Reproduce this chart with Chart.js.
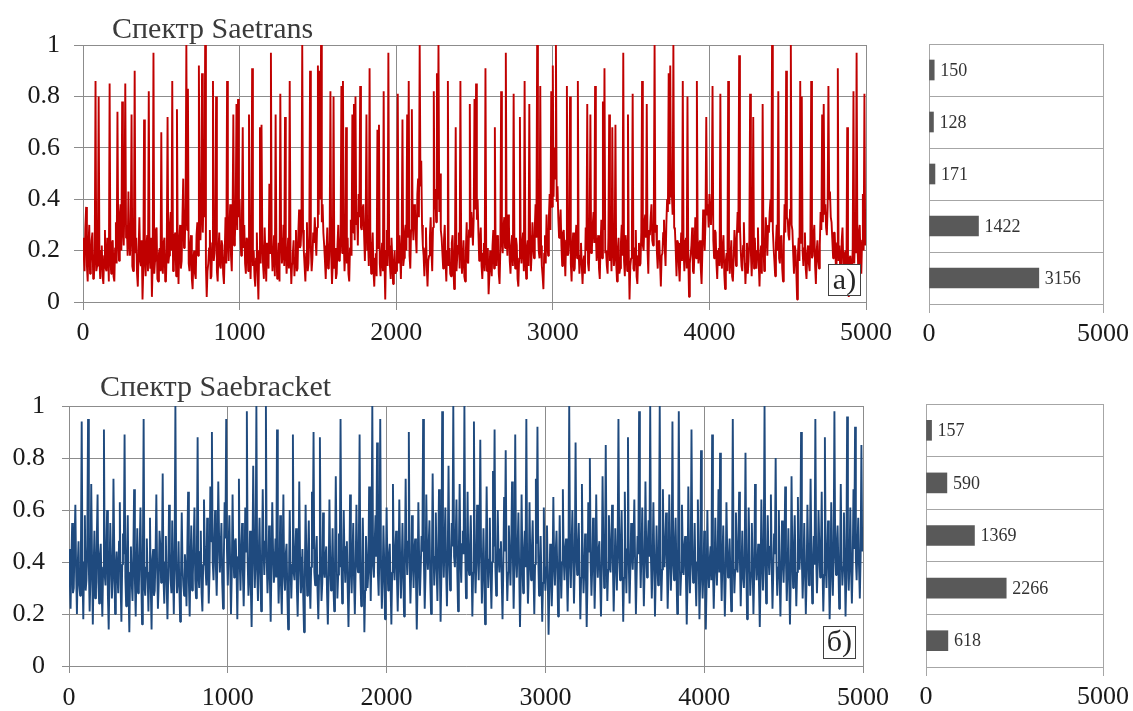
<!DOCTYPE html>
<html><head><meta charset="utf-8">
<script src="https://cdn.jsdelivr.net/npm/chart.js@4.4.0/dist/chart.umd.min.js"></script>
<style>
html,body{margin:0;padding:0;background:#fff;}
#wrap{position:relative;width:1133px;height:711px;overflow:hidden;background:#fff;}
canvas{position:absolute;left:0;top:0;}
.t{position:absolute;font-family:'Liberation Serif','Times New Roman',serif;font-size:30px;line-height:30px;color:#3b3b3b;white-space:nowrap;z-index:5;}
.tag{position:absolute;box-sizing:border-box;border:1px solid #404040;background:#fff;font-family:'Liberation Serif','Times New Roman',serif;font-size:30px;line-height:28px;text-align:center;color:#262626;z-index:5;}
</style></head><body>
<div id="wrap">
<canvas id="c1" width="1133" height="711"></canvas>
<canvas id="c2" width="1133" height="711"></canvas>
<canvas id="c3" width="1133" height="711"></canvas>
<canvas id="c4" width="1133" height="711"></canvas>
<div class="t" style="left:112px;top:13px;">Спектр Saetrans</div>
<div class="t" style="left:100px;top:371px;">Спектр Saebracket</div>
<div class="tag" style="left:828px;top:264px;width:33px;height:32px;">a)</div>
<div class="tag" style="left:823px;top:626px;width:33px;height:33px;">б)</div>
</div>
<script>
// sample spacing of the spectrum arrays (index -> position on x axis)
const sampleStep = 5;
const xTicks = [0, 1000, 2000, 3000, 4000, 5000];
const yTicks = [0, 0.2, 0.4, 0.6, 0.8, 1];
const barTicks = [0, 5000];
const binLabels = ['0.8–1', '0.6–0.8', '0.4–0.6', '0.2–0.4', '0–0.2'];
const saetransCounts = [150, 128, 171, 1422, 3156];
const saebracketCounts = [157, 590, 1369, 2266, 618];

const saetrans = [
.25,.18,.12,.29,.37,.14,.08,.22,.30,.11,.15,.24,.27,.09,.10,.19,.86,.12,.14,.21,
.80,.16,.09,.20,.22,.10,.07,.18,.28,.13,.12,.25,.19,.08,.85,.17,.11,.23,.24,.10,
.08,.21,.31,.15,.74,.26,.16,.34,.38,.20,.78,.29,.22,.40,.85,.25,.30,.18,.43,.24,
.18,.27,.73,.14,.12,.23,.90,.19,.25,.11,.06,.20,.33,.16,.14,.24,.01,.13,.71,.17,
.10,.22,.26,.12,.82,.18,.13,.25,.02,.15,.97,.11,.16,.28,.29,.09,.08,.19,.21,.12,
.66,.14,.11,.23,.25,.08,.09,.21,.72,.15,.18,.30,.35,.20,.86,.12,.14,.26,.27,.10,
.75,.19,.07,.24,.30,.13,.16,.33,.48,.21,.22,.37,1,.28,.83,.15,.12,.22,.26,.09,
.05,.17,.20,.11,.09,.26,.31,.18,.92,.30,.24,.36,.89,.27,.42,.33,1,.14,.02,.12,
.15,.21,.28,.09,.10,.23,.86,.16,.19,.27,.80,.12,.08,.20,.27,.14,.13,.24,.22,.11,
.07,.19,.33,.15,.86,.24,.16,.29,.38,.18,.12,.31,.73,.22,.25,.35,.77,.28,.79,.33,
.40,.26,.18,.34,.68,.21,.30,.15,.11,.25,.24,.12,.73,.19,.09,.22,.91,.14,.20,.10,
.06,.17,.27,.12,.01,.20,.68,.15,.69,.24,.14,.09,.29,.18,.08,.23,.21,.13,.46,.19,
.97,.22,.12,.18,.26,.10,.73,.20,.09,.16,.23,.08,.81,.25,.15,.19,.30,.14,.72,.21,
.11,.18,.25,.13,.86,.20,.07,.15,.19,.24,.10,.17,.28,.12,.13,.27,.36,.21,.22,.30,
1,.28,.20,.14,.08,.19,.31,.12,.15,.26,.90,.21,.12,.17,.27,.23,.33,.25,.18,.29,
.92,.34,.90,.40,1,.31,.38,.27,.22,.16,.09,.20,.29,.13,.14,.24,.82,.18,.07,.15,
.80,.13,.21,.09,.11,.22,.30,.16,.17,.26,.84,.19,.86,.24,.12,.20,.68,.15,.25,.11,
.08,.21,.32,.18,.73,.27,.77,.24,.80,.30,.35,.22,.42,.33,.84,.29,.28,.36,.38,.26,
.16,.30,.73,.20,.24,.14,.91,.23,.11,.19,.27,.12,.06,.17,.19,.10,.67,.21,.69,.15,
.10,.18,.23,.12,.82,.16,.01,.20,.28,.14,.97,.22,.14,.09,.25,.17,.07,.13,.20,.11,
.12,.22,.81,.15,.26,.19,.09,.24,.71,.14,.17,.27,.30,.20,.73,.25,.86,.18,.13,.28,
.75,.31,.24,.38,.36,.26,.19,.42,.48,.33,1,.45,.55,.30,.22,.18,.10,.21,.29,.14,
.06,.16,.18,.25,.33,.20,.12,.29,.82,.36,.44,.31,.89,.40,1,.35,.50,.28,.25,.19,
.13,.24,.30,.16,.08,.20,.86,.14,.21,.11,.10,.23,.26,.15,.05,.19,.68,.12,.18,.22,
.27,.13,.86,.21,.11,.18,.24,.10,.08,.20,.31,.16,.15,.28,.77,.25,.35,.30,.22,.33,
.79,.36,.85,.32,.40,.27,.16,.24,.29,.14,.09,.19,.23,.12,.91,.17,.12,.21,.03,.10,
.20,.15,.10,.22,.28,.13,.68,.18,.14,.26,.25,.11,.07,.20,.82,.24,.19,.29,.33,.21,
.97,.27,.18,.34,.30,.16,.11,.22,.26,.14,.81,.19,.13,.25,.22,.09,.06,.17,.72,.20,
.15,.23,.27,.12,.86,.18,.09,.21,.24,.14,.77,.26,.12,.19,.31,.22,.17,.29,.38,.25,
1,.30,.20,.17,.84,.22,.14,.10,.05,.19,.26,.15,.34,.24,.18,.33,.42,.28,.82,.37,
.92,.41,.60,.48,1,.39,.45,.33,.25,.30,.36,.22,.14,.27,.28,.19,.10,.24,.84,.18,
.19,.26,.80,.15,.08,.21,.27,.12,.13,.24,.30,.17,.86,.20,.11,.18,.23,.14,.07,.16,
.18,.11,.29,.20,.77,.15,.12,.24,.73,.19,.21,.30,.35,.23,.84,.27,.16,.22,.26,.13,
.09,.22,.32,.17,.78,.28,.91,.19,.20,.14,.11,.25,.73,.16,.24,.12,.68,.21,.14,.18,
.69,.15,.08,.20,.25,.11,.13,.23,.30,.18,.97,.16,.10,.26,.22,.12,.73,.19,.01,.14,
.17,.24,.81,.13,.12,.21,.28,.10,.07,.18,.23,.14,.15,.27,.86,.22,.20,.31,.34,.25,
.77,.20,.11,.28,.26,.33,.38,.24,.22,.35,1,.27,.30,.19,.13,.23,.24,.15,.06,.18,
.19,.27,.32,.21,.14,.30,.40,.35,.89,.38,.92,.41,.43,.34,1,.29,.28,.20,.10,.24,
.23,.14,.08,.19,.27,.16,.86,.21,.12,.24,.25,.13,.80,.18,.02,.15,.18,.22,.29,.12,
.11,.20,.33,.17,.86,.25,.15,.22,.24,.13,.07,.19,.36,.26,.20,.31,.72,.34,.38,.29,
.42,.35,.30,.40,.84,.24,.17,.28,.27,.15,.09,.20,.21,.14,.81,.18,.13,.22,.26,.11,
.05,.16,.19,.12,.86,.21,.11,.18,.24,.10,.08,.17,.28,.22,.14,.25,.35,.27,.96,.30,
.20,.14,.12,.22,.31,.18,.07,.15,.23,.11,.16,.24,.81,.19,.10,.21,.72,.13,.25,.17,
.13,.20,.29,.15,.06,.18,.22,.11,.77,.24,.12,.19,.33,.26,.18,.30,.27,.35,.40,.31,
1,.28,.21,.16,.10,.23,.30,.20,.82,.17,.15,.25,.26,.13,.08,.22,.38,.27,.90,.33,
.32,.26,.24,.36,1,.30,.28,.19,.11,.22,.20,.12,.01,.18,.25,.16,.86,.23,.80,.20,
.14,.21,.27,.13,.09,.19,.22,.15,.12,.25,.86,.17,.18,.26,.30,.14,.07,.20,.24,.16,
.13,.22,.35,.28,.73,.31,.77,.34,.38,.29,.26,.37,.84,.40,.43,.33,.31,.24,.17,.27,
.27,.18,.10,.23,.91,.16,.22,.13,.12,.24,.29,.15,.08,.19,.20,.11,.68,.14,.02,.17,
.18,.12,.09,.21,.82,.15,.26,.19,.97,.23,.14,.27,.30,.16,.11,.24,.42,.20,.81,.22
];

const saebracket = [
.45,.33,.22,.41,.55,.28,.30,.47,.62,.36,.20,.39,.48,.31,.27,.44,.94,.35,.18,.40,
.58,.29,.33,.46,.95,.38,.21,.34,.70,.42,.16,.37,.52,.26,.29,.49,.66,.32,.24,.43,
.47,.30,.19,.38,.91,.35,.31,.45,.60,.27,.14,.36,.55,.40,.26,.33,.72,.44,.20,.37,
.44,.35,.28,.48,.63,.31,.17,.39,.51,.43,.89,.34,.23,.41,.58,.29,.13,.36,.46,.32,
.25,.42,.68,.33,.19,.37,.53,.28,.30,.45,.61,.34,.16,.40,.95,.31,.27,.38,.49,.35,
.21,.36,.57,.30,.14,.41,.45,.27,.29,.43,.66,.38,.22,.32,.52,.46,.32,.39,.74,.34,
.24,.40,.50,.31,.18,.35,.62,.44,.33,.28,.56,.37,.20,.42,1,.39,.28,.33,.48,.30,
.17,.34,.59,.38,.31,.27,.43,.36,.23,.45,.67,.32,.19,.40,.54,.29,.35,.47,.61,.33,
.26,.41,.88,.35,.30,.44,.52,.28,.21,.39,.64,.46,.37,.31,.57,.42,.24,.36,.69,.48,
.90,.40,.33,.47,.60,.38,.27,.43,.71,.50,.36,.45,.55,.32,.22,.41,.63,.49,.95,.44,
.31,.46,.58,.39,.20,.35,.66,.43,.34,.48,.49,.37,.18,.42,.72,.40,.29,.45,.55,.36,
.23,.38,.61,.44,.98,.41,.27,.35,.52,.30,.15,.39,.77,.46,.30,.42,1,.37,.25,.43,
.57,.36,.21,.40,.68,.45,.35,.48,1,.41,.28,.38,.54,.33,.17,.39,.63,.44,.32,.37,
.49,.34,.91,.42,.24,.36,.58,.31,.20,.40,.66,.35,.29,.43,.47,.28,.14,.33,.60,.38,
.26,.39,.89,.36,.33,.44,.53,.30,.19,.37,.71,.42,.28,.34,.45,.27,.13,.35,.62,.40,
.27,.41,.56,.33,.22,.38,.67,.45,.90,.36,.31,.43,.50,.29,.18,.35,.88,.40,.25,.32,
.59,.37,.34,.42,.46,.28,.16,.33,.64,.40,.29,.36,.53,.31,.21,.39,.73,.44,.26,.35,
.51,.38,.95,.43,.24,.35,.60,.41,.32,.46,.48,.30,.15,.34,.66,.39,.28,.42,.55,.33,
.20,.37,.62,.40,.36,.45,.89,.34,.23,.31,.57,.38,.13,.29,.50,.41,.30,.36,.69,.43,
.25,.44,1,.39,.34,.47,.58,.42,.86,.36,.27,.45,.95,.38,.22,.33,.54,.40,.18,.35,
.61,.39,.29,.43,.47,.31,.16,.36,.70,.41,.33,.45,.52,.34,.21,.37,.64,.42,.26,.38,
.55,.35,.19,.40,.72,.44,.35,.48,.90,.39,.24,.36,.58,.42,.30,.45,.49,.33,.14,.31,
.63,.41,.27,.38,.50,.44,.95,.40,.22,.35,.66,.43,.37,.47,.56,.32,.20,.39,.74,.46,
.31,.42,.59,.37,.25,.44,.68,.39,.17,.35,.98,.45,.34,.48,.61,.36,.23,.41,.77,.43,
.29,.40,.55,.46,1,.42,.38,.49,.64,.37,.21,.44,.70,.41,.32,.47,.52,.43,1,.45,
.26,.41,.67,.38,.35,.46,.58,.40,.19,.36,.94,.43,.28,.39,.62,.45,.33,.48,.87,.42,
.24,.37,.53,.34,.16,.39,.69,.43,.30,.41,.57,.35,.22,.40,.75,.46,.91,.38,.27,.36,
.60,.42,.36,.45,.48,.33,.18,.38,.65,.44,.83,.40,.25,.36,.54,.41,.31,.47,.71,.43,
.22,.39,.89,.42,.34,.46,.59,.37,.15,.33,.66,.41,.28,.44,.52,.38,.95,.40,.24,.35,
.63,.41,.33,.45,.56,.36,.20,.39,.72,.47,.92,.42,.27,.37,.50,.34,.17,.32,.61,.40,
.29,.38,.54,.33,.12,.30,.47,.36,.23,.35,.65,.41,.31,.44,.52,.37,.19,.34,.58,.39,
.26,.40,.68,.42,.33,.45,.49,.36,.21,.38,1,.43,.30,.47,.60,.41,.24,.39,.86,.44,
.35,.46,.55,.39,.18,.34,.70,.42,.28,.37,.51,.35,.15,.32,.63,.44,.80,.40,.27,.38,
.57,.41,.22,.36,.66,.43,.34,.45,.48,.33,.19,.38,.73,.46,.30,.40,.85,.42,.25,.37,
.58,.44,.36,.48,.62,.39,.21,.35,.53,.41,.29,.46,.95,.43,.33,.47,.60,.38,.17,.34,
.67,.42,.28,.45,.88,.40,.24,.37,.55,.44,.37,.48,.64,.39,.20,.36,.50,.43,.98,.46,
.30,.44,.61,.40,.23,.38,.71,.45,.34,.47,.56,.42,1,.41,.26,.39,.63,.43,.19,.35,
.54,.40,.31,.46,1,.43,.25,.37,.68,.44,.38,.48,.59,.41,.22,.36,.66,.45,.29,.39,
.94,.42,.33,.47,.57,.38,.20,.40,.98,.44,.27,.36,.62,.43,.35,.46,.50,.34,.16,.32,
.69,.41,.28,.39,.91,.44,.32,.37,.55,.35,.23,.40,.64,.42,.18,.33,.83,.38,.26,.36,
.52,.34,.14,.31,.60,.37,.30,.41,.46,.33,.89,.38,.22,.35,.57,.40,.31,.43,.68,.36,
.82,.39,.25,.42,.54,.36,.19,.33,.63,.44,.34,.40,.49,.35,.21,.38,.95,.41,.28,.37,
.59,.43,.36,.46,.67,.40,.23,.38,.52,.34,.30,.42,.82,.39,.18,.35,.61,.44,.27,.36,
.55,.38,.20,.35,.70,.43,.33,.40,.47,.31,.15,.34,.64,.41,.29,.45,1,.39,.24,.37,
.58,.42,.35,.46,.66,.39,.22,.36,.51,.43,.80,.40,.27,.38,.60,.34,.19,.37,.56,.41,
.32,.44,.69,.40,.25,.37,.53,.35,.16,.33,.73,.42,.30,.45,.58,.39,.23,.36,.65,.41,
.37,.45,.90,.41,.26,.38,.55,.36,.20,.34,.62,.43,.31,.40,.72,.44,.24,.37,.50,.39,
.95,.42,.28,.39,.60,.46,.34,.43,.67,.38,.21,.35,.88,.41,.30,.44,.56,.37,.18,.33,
.63,.40,.27,.43,.98,.45,.35,.47,.54,.39,.22,.36,.70,.42,.31,.38,.59,.41,.19,.34,
.96,.43,.29,.40,.61,.37,.24,.39,.68,.45,.92,.41,.33,.46,.57,.38,.26,.42,.85,.44
];

const W = 1133, H = 711;
const SERIF = "'Liberation Serif', 'Times New Roman', serif";

function toPoints(arr) { return arr.map((v, i) => ({ x: i * sampleStep, y: v })); }

function lineChart(id, values, color, area, cfg) {
  return new Chart(document.getElementById(id), {
    type: 'line',
    data: { datasets: [{ data: toPoints(values), borderColor: color, borderWidth: cfg.lw, pointRadius: 0, tension: 0, fill: false, borderJoinStyle: 'bevel' }] },
    options: {
      responsive: false, animation: false, events: [],
      layout: { padding: { left: area.left - cfg.yW, top: area.top, right: W - area.right, bottom: H - area.bottom - cfg.xH } },
      plugins: { legend: { display: false }, tooltip: { enabled: false } },
      scales: {
        x: {
          type: 'linear', min: 0, max: 5000,
          afterBuildTicks: s => { s.ticks = xTicks.map(v => ({ value: v })); },
          ticks: { font: { family: SERIF, size: 26 }, color: '#1a1a1a', padding: cfg.xPad, maxRotation: 0, autoSkip: false, callback: v => String(v) },
          grid: { color: '#8c8c8c', lineWidth: 1, tickLength: cfg.xTl },
          border: { color: '#8c8c8c' },
          afterFit: s => { s.height = cfg.xH; s.paddingLeft = 0; s.paddingRight = 0; }
        },
        y: {
          type: 'linear', min: 0, max: 1,
          afterBuildTicks: s => { s.ticks = yTicks.map(v => ({ value: v })); },
          ticks: { font: { family: SERIF, size: 26 }, color: '#1a1a1a', padding: cfg.yPad, callback: v => String(v) },
          grid: { color: '#8c8c8c', lineWidth: 1, tickLength: cfg.yTl },
          border: { color: '#8c8c8c' },
          afterFit: s => { s.width = cfg.yW; s.paddingTop = 0; s.paddingBottom = 0; }
        }
      }
    }
  });
}

const valueLabels = {
  id: 'valueLabels',
  afterDatasetsDraw(chart) {
    const ctx = chart.ctx;
    const meta = chart.getDatasetMeta(0);
    const vals = chart.data.datasets[0].data;
    ctx.save();
    ctx.font = "18px " + SERIF;
    ctx.fillStyle = '#333333';
    ctx.textAlign = 'left';
    ctx.textBaseline = 'middle';
    meta.data.forEach((bar, i) => { ctx.fillText(String(vals[i]), bar.x + 6, bar.y + 1); });
    ctx.restore();
  }
};

function barChart(id, counts, area, xH) {
  const yW = 10;
  return new Chart(document.getElementById(id), {
    type: 'bar',
    data: { labels: binLabels, datasets: [{ data: counts, backgroundColor: '#595959', borderWidth: 0, barThickness: 20 }] },
    options: {
      indexAxis: 'y', responsive: false, animation: false, events: [],
      layout: { padding: { left: area.left - yW, top: area.top, right: W - area.right, bottom: H - area.bottom - xH } },
      plugins: { legend: { display: false }, tooltip: { enabled: false } },
      scales: {
        x: {
          type: 'linear', min: 0, max: 5000,
          afterBuildTicks: s => { s.ticks = barTicks.map(v => ({ value: v })); },
          ticks: { font: { family: SERIF, size: 26 }, color: '#1a1a1a', padding: 6, maxRotation: 0, autoSkip: false, callback: v => String(v) },
          grid: { color: '#a6a6a6', lineWidth: 1, tickLength: 9 },
          border: { color: '#a6a6a6' },
          afterFit: s => { s.height = xH; s.paddingLeft = 0; s.paddingRight = 0; }
        },
        y: {
          ticks: { display: false },
          grid: { color: '#a6a6a6', lineWidth: 1, drawTicks: false, offset: true },
          border: { color: '#a6a6a6' },
          afterFit: s => { s.width = yW; s.paddingTop = 0; s.paddingBottom = 0; }
        }
      }
    },
    plugins: [valueLabels]
  });
}

lineChart('c1', saetrans, '#c00000', { left: 83, right: 866, top: 45, bottom: 302 }, { lw: 1.9, yW: 70, xH: 50, xPad: 8, xTl: 8, yPad: 14, yTl: 9 });
lineChart('c3', saebracket, '#1f4a7e', { left: 69, right: 863, top: 406, bottom: 666 }, { lw: 1.9, yW: 60, xH: 45, xPad: 10, xTl: 7, yPad: 17, yTl: 7 });
barChart('c2', saetransCounts, { left: 929, right: 1103, top: 44, bottom: 304 }, 45);
barChart('c4', saebracketCounts, { left: 926, right: 1103, top: 404, bottom: 667 }, 44);
</script>
</body></html>
